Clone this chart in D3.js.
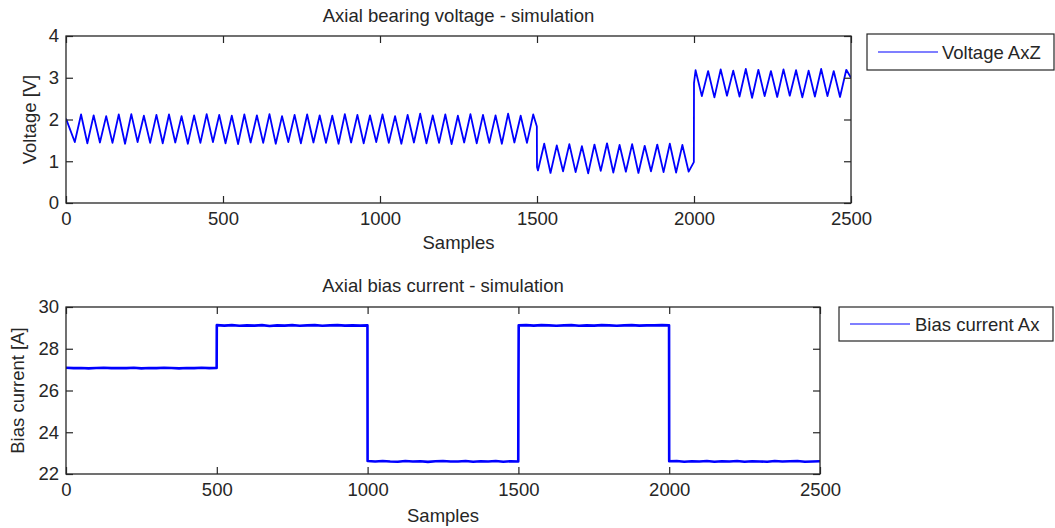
<!DOCTYPE html>
<html>
<head>
<meta charset="utf-8">
<script src="https://cdn.jsdelivr.net/npm/d3@7"></script>
<style>
  html, body { margin: 0; padding: 0; background: #fff; }
  svg { display: block; }
  text { font-family: "Liberation Sans", Arial, sans-serif; fill: #262626; }
</style>
</head>
<body>
<svg id="chart" width="1055" height="528"></svg>
<script>
// ---------------- DATA ----------------
const xTicks = [0, 500, 1000, 1500, 2000, 2500];
const voltageTicks = [0, 1, 2, 3, 4];
const currentTicks = [22, 24, 26, 28, 30];

const voltagePeriod = 40; // samples per oscillation
// Segment 1 (0-1500)
const seg1StartValue = 2.02;
const seg1FirstTrough = 28;
const seg1Troughs = [1.46,1.43,1.45,1.44,1.42,1.46,1.44,1.43,1.45,1.42,1.44,1.46,1.43,1.41,1.45,1.44,1.42,1.46,1.43,1.45,1.44,1.42,1.45,1.43,1.46,1.44,1.42,1.45,1.43,1.44,1.41,1.45,1.43,1.44,1.42,1.45,1.44];
const seg1Peaks   = [2.12,2.10,2.08,2.12,2.13,2.09,2.11,2.12,2.08,2.10,2.13,2.11,2.09,2.12,2.10,2.13,2.08,2.11,2.12,2.10,2.09,2.13,2.11,2.10,2.12,2.08,2.11,2.14,2.10,2.12,2.09,2.13,2.11,2.10,2.14,2.09,2.12];
const seg1EndValue = 1.83;
// Segment 2 (1500-2000)
const seg2FirstTrough = 1503;
const seg2Troughs = [0.78,0.72,0.76,0.74,0.71,0.77,0.73,0.75,0.72,0.76,0.74,0.73,0.75];
const seg2Peaks   = [1.42,1.38,1.41,1.36,1.40,1.43,1.39,1.41,1.37,1.40,1.42,1.39];
const seg2EndValue = 0.98;
// Segment 3 (2000-2500)
const seg3StartValue = 2.87;
const seg3FirstPeak = 2005;
const seg3Peaks   = [3.18,3.16,3.20,3.17,3.21,3.19,3.16,3.20,3.18,3.17,3.21,3.16,3.19];
const seg3Troughs = [2.56,2.53,2.57,2.55,2.52,2.56,2.54,2.57,2.53,2.55,2.56,2.54];
const seg3EndValue = 3.00;

// Bias current: level segments and readings every 25 samples
const currentSegStarts = [0, 500, 1000, 1501, 2000];
const currentSegEnds   = [500, 1000, 1500, 2000, 2500];
const currentStep = 25;
const currentSegA = [27.09,27.07,27.08,27.06,27.08,27.09,27.07,27.08,27.07,27.09,27.06,27.08,27.07,27.09,27.08,27.06,27.08,27.07,27.09,27.07,27.08];
const currentSegB = [29.13,29.11,29.13,29.10,29.12,29.11,29.13,29.09,29.12,29.11,29.13,29.10,29.12,29.13,29.10,29.12,29.13,29.11,29.12,29.11,29.12];
const currentSegC = [22.62,22.60,22.62,22.60,22.59,22.62,22.60,22.61,22.58,22.61,22.62,22.60,22.60,22.62,22.59,22.61,22.60,22.62,22.59,22.61,22.60];
const currentGlitchSample = 1500;
const currentGlitchValue = 25.8;
const currentSegD = [29.12,29.13,29.11,29.13,29.12,29.10,29.12,29.13,29.10,29.12,29.11,29.13,29.12,29.10,29.12,29.13,29.11,29.12,29.12,29.13,29.12];
const currentSegE = [22.61,22.62,22.59,22.61,22.60,22.62,22.59,22.61,22.60,22.62,22.59,22.61,22.60,22.59,22.62,22.60,22.61,22.62,22.59,22.60,22.61];

// ---------------- BUILD SERIES ----------------
const voltage = [];
voltage.push([0, seg1StartValue]);
seg1Troughs.forEach((t, i) => {
  voltage.push([seg1FirstTrough + i * voltagePeriod, t]);
  voltage.push([seg1FirstTrough + i * voltagePeriod + voltagePeriod / 2, seg1Peaks[i]]);
});
voltage.push([1499.5, seg1EndValue]);
voltage.push([1500, seg2Troughs[0] + 0.08]);
seg2Troughs.forEach((t, i) => {
  voltage.push([seg2FirstTrough + i * voltagePeriod, t]);
  if (i < seg2Peaks.length) voltage.push([seg2FirstTrough + i * voltagePeriod + voltagePeriod / 2, seg2Peaks[i]]);
});
voltage.push([1999.5, seg2EndValue]);
voltage.push([2000, seg3StartValue]);
seg3Peaks.forEach((p, i) => {
  voltage.push([seg3FirstPeak + i * voltagePeriod, p]);
  if (i < seg3Troughs.length) voltage.push([seg3FirstPeak + i * voltagePeriod + voltagePeriod / 2, seg3Troughs[i]]);
});
voltage.push([2500, seg3EndValue]);

const currentSegs = [currentSegA, currentSegB, currentSegC, currentSegD, currentSegE];
const current = [];
currentSegs.forEach((vals, s) => {
  if (s === 3) current.push([currentGlitchSample, currentGlitchValue]);
  vals.forEach((v, i) => {
    const x = Math.min(currentSegStarts[s] + i * currentStep, currentSegEnds[s] - 0.5);
    current.push([x, v]);
  });
});
current.push([2500, currentSegE[currentSegE.length - 1]]);

// ---------------- DRAW ----------------
const svg = d3.select("#chart");
const FS = 18.5;
const axisColor = "#262626";

function panel(opts) {
  const { x0, x1, y0, y1, xDomain, yDomain, yTicks, data, title, ylabel, legend, legendBox, titleY, xLabelY, ylabelX } = opts;
  const x = d3.scaleLinear().domain(xDomain).range([x0, x1]);
  const y = d3.scaleLinear().domain(yDomain).range([y1, y0]);
  const g = svg.append("g");

  const clipId = "clip" + Math.round(y0);
  svg.append("clipPath").attr("id", clipId).append("rect")
    .attr("x", x0).attr("y", y0).attr("width", x1 - x0).attr("height", y1 - y0);

  g.append("path")
    .datum(data)
    .attr("clip-path", `url(#${clipId})`)
    .attr("fill", "none")
    .attr("stroke", "#0000ff")
    .attr("stroke-width", opts.lineWidth)
    .attr("stroke-linejoin", "round")
    .attr("d", d3.line().x(d => x(d[0])).y(d => y(d[1])));

  const tk = 7;
  const styleAxis = sel => {
    sel.select(".domain").remove();
    sel.selectAll(".tick line").attr("stroke", axisColor).attr("stroke-width", 1.2);
    sel.selectAll(".tick text").attr("font-size", FS).attr("font-family", '"Liberation Sans", Arial, sans-serif').attr("fill", axisColor);
  };
  g.append("g").attr("transform", `translate(0,${y1})`)
    .call(d3.axisBottom(x).tickValues(xTicks).tickSize(-tk).tickPadding(9).tickFormat(d3.format("d")))
    .call(styleAxis);
  g.append("g").attr("transform", `translate(0,${y0})`)
    .call(d3.axisTop(x).tickValues(xTicks).tickSize(-tk).tickFormat(""))
    .call(styleAxis);
  g.append("g").attr("transform", `translate(${x0},0)`)
    .call(d3.axisLeft(y).tickValues(yTicks).tickSize(-tk).tickPadding(7).tickFormat(d3.format("d")))
    .call(styleAxis);
  g.append("g").attr("transform", `translate(${x1},0)`)
    .call(d3.axisRight(y).tickValues(yTicks).tickSize(-tk).tickFormat(""))
    .call(styleAxis);

  g.append("rect").attr("x", x0).attr("y", y0).attr("width", x1 - x0).attr("height", y1 - y0)
    .attr("fill", "none").attr("stroke", axisColor).attr("stroke-width", 1.3);

  g.append("text").attr("x", (x0 + x1) / 2).attr("y", titleY).attr("text-anchor", "middle")
    .attr("font-size", FS).text(title);
  g.append("text").attr("x", (x0 + x1) / 2).attr("y", xLabelY).attr("text-anchor", "middle")
    .attr("font-size", FS).text("Samples");
  g.append("text").attr("transform", `translate(${ylabelX},${(y0 + y1) / 2}) rotate(-90)`)
    .attr("text-anchor", "middle").attr("font-size", FS).text(ylabel);

  const lb = legendBox;
  g.append("rect").attr("x", lb.x).attr("y", lb.y).attr("width", lb.w).attr("height", lb.h)
    .attr("fill", "#fff").attr("stroke", axisColor).attr("stroke-width", 1.2);
  g.append("line").attr("x1", lb.x + lb.lx1).attr("x2", lb.x + lb.lx2)
    .attr("y1", lb.y + lb.h / 2).attr("y2", lb.y + lb.h / 2)
    .attr("stroke", "#0000ff").attr("stroke-width", 1.2);
  g.append("text").attr("x", lb.x + lb.tx).attr("y", lb.y + lb.h / 2 + 6.5)
    .attr("font-size", FS).text(legend);
}

panel({
  x0: 66, x1: 851, y0: 36, y1: 203,
  xDomain: [0, 2500], yDomain: [0, 4], yTicks: voltageTicks,
  data: voltage, lineWidth: 1.8,
  title: "Axial bearing voltage - simulation", titleY: 22,
  xLabelY: 249, ylabel: "Voltage [V]", ylabelX: 36,
  legend: "Voltage AxZ",
  legendBox: { x: 867, y: 34, w: 187, h: 36, lx1: 11, lx2: 71, tx: 75 }
});

panel({
  x0: 66, x1: 820, y0: 307, y1: 474,
  xDomain: [0, 2500], yDomain: [22, 30], yTicks: currentTicks,
  data: current, lineWidth: 2.6,
  title: "Axial bias current - simulation", titleY: 292,
  xLabelY: 522, ylabel: "Bias current [A]", ylabelX: 24,
  legend: "Bias current Ax",
  legendBox: { x: 839, y: 307, w: 214, h: 34, lx1: 11, lx2: 71, tx: 76 }
});
</script>
</body>
</html>
